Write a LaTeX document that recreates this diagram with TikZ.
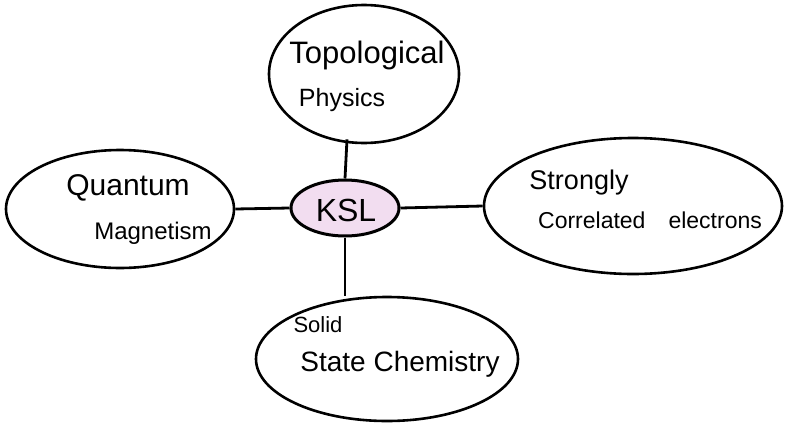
\documentclass[tikz,border=0pt]{standalone}
\usepackage{fontspec}
\setmainfont{Liberation Sans}
\definecolor{kslpink}{HTML}{F2DDF0}
\usetikzlibrary{shapes.geometric}
\tikzset{
  bubble/.style={draw=black, line width=2.6pt, ellipse, inner sep=0pt},
  lbl/.style={font=\fontsize{#1}{#1}\selectfont, anchor=center, inner sep=0pt},
  link/.style={draw=black, line width=2.8pt},
}
\begin{document}
\begin{tikzpicture}[x=1pt,y=-1pt]
\useasboundingbox (0,0) rectangle (787,426);
% center
\node[bubble, line width=3pt, fill=kslpink, minimum width=108pt, minimum height=56pt] (ksl) at (345,208) {};
\node[lbl=32] (kslt) at (346,210) {KSL};
% top
\node[bubble, minimum width=190pt, minimum height=138pt] (top) at (364,74) {};
\node[lbl=31] (t1) at (367,55) {Topological};
\node[lbl=25] (t2) at (342,100) {Physics};
% left
\node[bubble, minimum width=228pt, minimum height=118pt] (left) at (120,209) {};
\node[lbl=30] (l1) at (128,188) {Quantum};
\node[lbl=24] (l2) at (153,233) {Magnetism};
% right
\node[bubble, minimum width=298pt, minimum height=136pt] (right) at (633,206) {};
\node[lbl=27] (r1) at (579,183) {Strongly};
\node[lbl=23] (r2) at (650,220) {Correlated\quad electrons};
% bottom
\node[bubble, minimum width=262pt, minimum height=124pt] (bottom) at (387,359) {};
\node[lbl=22] (b1) at (318,325) {Solid};
\node[lbl=28] (b2) at (400,364) {State Chemistry};
% connectors
\draw[link] (top.south) ++(-17,-5) coordinate (tc) -- (ksl.north);
\draw[link] (left.east) -- (ksl.west);
\draw[link] (ksl.east) -- (right.west);
\draw[link] (ksl.south) -- (bottom.north -| ksl.south);
\end{tikzpicture}
\end{document}
